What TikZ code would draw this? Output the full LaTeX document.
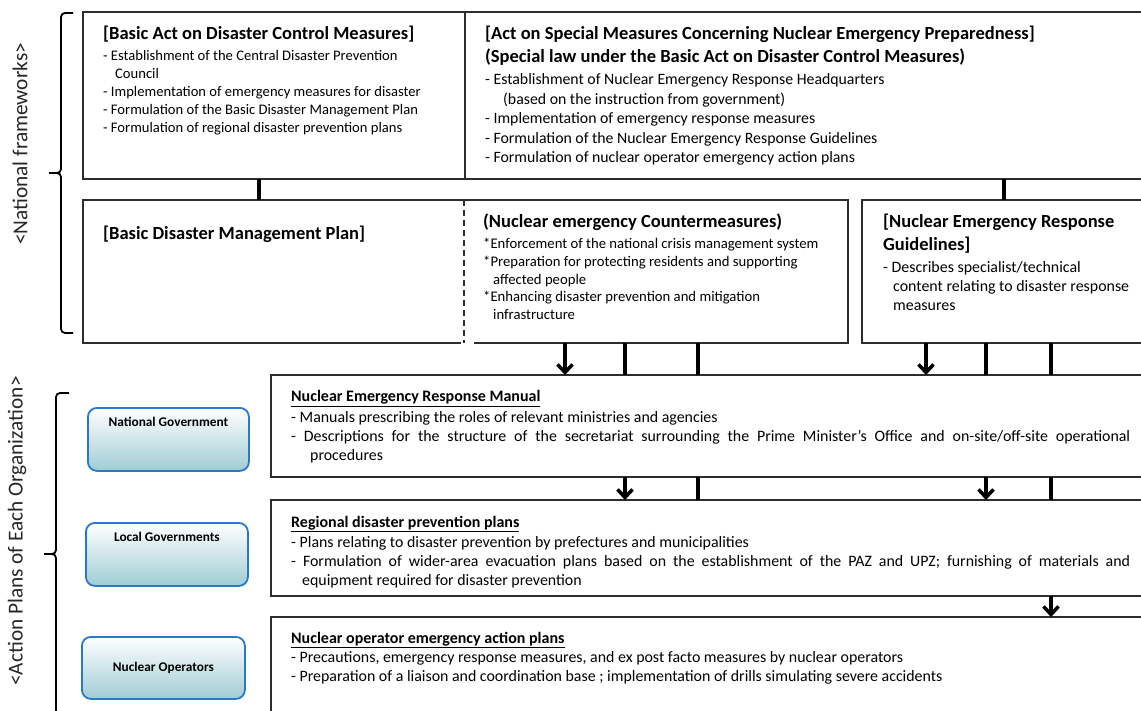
\documentclass[tikz,border=0pt]{standalone}
\usepackage{fontspec}
\setmainfont{Carlito}
\usetikzlibrary{positioning,arrows.meta}

\definecolor{boxline}{RGB}{45,45,45}
\definecolor{orgline}{RGB}{40,120,205}
\definecolor{orgfill}{RGB}{160,204,212}

\tikzset{
	frame/.style={draw=boxline, line width=1.3pt, inner sep=0pt, outer sep=0pt, anchor=north west},
	link/.style={line width=3.5pt},
	flow/.style={link, -{Straight Barb[length=8pt,width=15pt]}},
	brace/.style={line width=1.8pt, rounded corners=4pt},
	txt/.style={anchor=base west, inner sep=0pt, align=left},
	headA/.style={txt, font=\fontsize{18.5}{23}\bfseries\selectfont},
	headC/.style={txt, font=\fontsize{16}{19}\bfseries\selectfont},
	bodyA/.style={txt, font=\fontsize{14.6}{18}\selectfont},
	bodyB/.style={txt, font=\fontsize{15.8}{19.5}\selectfont},
	bodyC/.style={txt, font=\fontsize{15.9}{19}\selectfont},
	bodyD/.style={txt, font=\fontsize{14.7}{17.7}\selectfont},
	side/.style={rotate=90, inner sep=0pt, text=black!85, font=\fontsize{21.3}{24}\selectfont},
	org/.style={draw=orgline, line width=1.8pt, rounded corners=9pt, top color=white, bottom color=orgfill, anchor=north west, inner sep=0pt, font=\fontsize{13.3}{15}\bfseries\selectfont},
	orgtext/.style={inner sep=0pt, font=\fontsize{13.3}{15}\bfseries\selectfont}
}

\begin{document}
\begin{tikzpicture}[x=1pt, y=-1pt]
	\useasboundingbox (0,0) rectangle (1141,711);
	\clip (0,0) rectangle (1141,711);

	% national frameworks (text nodes sit on the baseline of their last line)
	\node[side] (natlabel) at (20,144) {<National frameworks>};
	\draw[brace] (73,13) -- (61,13) -- (61,173) -- (49,173)
		(49,173) -- (61,173) -- (61,333) -- (73,333);

	\node[frame, minimum width=1090pt, minimum height=167pt] (acts) at (83,12) {};
	\draw[draw=boxline, line width=1.3pt] (acts.north -| 465,0) -- (acts.south -| 465,0);

	\node[headA] (basicact) at (103,40) {[Basic Act on Disaster Control Measures]};
	\node[bodyA] (basicitems) at (103,133) {- Establishment of the Central Disaster Prevention\\
		\hspace*{12pt}Council\\
		- Implementation of emergency measures for disaster\\
		- Formulation of the Basic Disaster Management Plan\\
		- Formulation of regional disaster prevention plans};

	\node[headA] (specialact) at (485,63) {[Act on Special Measures Concerning Nuclear Emergency Preparedness]\\
		(Special law under the Basic Act on Disaster Control Measures)};
	\node[bodyB] (specialitems) at (485,163) {- Establishment of Nuclear Emergency Response Headquarters\\
		\hspace*{18pt}(based on the instruction from government)\\
		- Implementation of emergency response measures\\
		- Formulation of the Nuclear Emergency Response Guidelines\\
		- Formulation of nuclear operator emergency action plans};

	% plans
	\node[inner sep=0pt, outer sep=0pt, anchor=north west, minimum width=765pt, minimum height=143pt] (plan) at (83,200) {};
	\draw[draw=boxline, line width=1.3pt] (plan.south -| 461,0) -- (plan.south west) -- (plan.north west)
		-- (plan.north east) -- (plan.south east) -- (plan.south -| 474,0);
	\draw[draw=boxline, line width=1.3pt, dash pattern=on 6pt off 4pt] (plan.north -| 464,0) -- (plan.south -| 464,0);
	\node[frame, minimum width=300pt, minimum height=143pt] (guide) at (862,200) {};

	\draw[link] (acts.south -| 259,0) -- (plan.north -| 259,0);
	\draw[link] (acts.south -| 1004,0) -- (guide.north -| 1004,0);

	\node[headA] (bdmp) at (103,240) {[Basic Disaster Management Plan]};
	\node[headA] (counter) at (483,228) {(Nuclear emergency Countermeasures)};
	\node[bodyD] (counteritems) at (483,319.5) {*Enforcement of the national crisis management system\\
		*Preparation for protecting residents and supporting\\
		\hspace*{10pt}affected people\\
		*Enhancing disaster prevention and mitigation\\
		\hspace*{10pt}infrastructure};
	\node[headA] (guidename) at (883,251) {[Nuclear Emergency Response\\Guidelines]};
	\node[bodyC] (guideitems) at (883,311) {- Describes specialist/technical\\
		\hspace*{10pt}content relating to disaster response\\
		\hspace*{10pt}measures};

	% action plans of each organization
	\node[side] (orglabel) at (17,531) {<Action Plans of Each Organization>};
	\draw[brace] (69,393) -- (56,393) -- (56,554) -- (44,554)
		(44,554) -- (56,554) -- (56,730);

	\node[org, minimum width=161pt, minimum height=63pt] (natgov) at (87,407) {};
	\node[orgtext, below=10pt of natgov.north] (natgovname) {National Government};
	\node[org, minimum width=162pt, minimum height=63pt] (localgov) at (85,522) {};
	\node[orgtext, below=10pt of localgov.north] (localgovname) {Local Governments};
	\node[org, minimum width=163pt, minimum height=62pt] (nucop) at (81,636) {Nuclear Operators};

	\node[frame, minimum width=900pt, minimum height=102pt] (manual) at (271,375) {};
	\node[frame, minimum width=900pt, minimum height=96pt] (regional) at (271,500) {};
	\node[frame, minimum width=900pt, minimum height=120pt] (operator) at (271,617) {};

	\draw[flow] (plan.south -| 565,0) -- (manual.north -| 565,0);
	\draw[link] (plan.south -| 625,0) -- (manual.north -| 625,0);
	\draw[link] (plan.south -| 698,0) -- (manual.north -| 698,0);
	\draw[flow] (guide.south -| 926,0) -- (manual.north -| 926,0);
	\draw[link] (guide.south -| 986,0) -- (manual.north -| 986,0);
	\draw[link] (guide.south -| 1051,0) -- (manual.north -| 1051,0);

	\draw[flow] (manual.south -| 625,0) -- (regional.north -| 625,0);
	\draw[link] (manual.south -| 698,0) -- (regional.north -| 698,0);
	\draw[flow] (manual.south -| 986,0) -- (regional.north -| 986,0);
	\draw[link] (manual.south -| 1051,0) -- (regional.north -| 1051,0);

	\draw[flow] (regional.south -| 1051,0) -- (operator.north -| 1051,0);

	\node[headC] (manualname) at (291,402) {\underline{Nuclear Emergency Response Manual}};
	\node[bodyC] (manualitems) at (291,460.5) {- Manuals prescribing the roles of relevant ministries and agencies\\
		\makebox[839pt][s]{- Descriptions for the structure of the secretariat surrounding the Prime Minister's Office and on-site/off-site operational}\\
		\hspace*{19pt}procedures};

	\node[headC] (regionalname) at (291,527.5) {\underline{Regional disaster prevention plans}};
	\begin{scope}
		\clip (271,500) rectangle (1141,587);
		\node[bodyC] (regionalitems) at (291,585.5) {- Plans relating to disaster prevention by prefectures and municipalities\\
			\makebox[839pt][s]{- Formulation of wider-area evacuation plans based on the establishment of the PAZ and UPZ; furnishing of materials and}\\
			\hspace*{11pt}equipment required for disaster prevention};
	\end{scope}

	\node[headC] (operatorname) at (291,643.5) {\underline{Nuclear operator emergency action plans}};
	\node[bodyC] (operatoritems) at (291,681) {- Precautions, emergency response measures, and ex post facto measures by nuclear operators\\
		- Preparation of a liaison and coordination base ; implementation of drills simulating severe accidents};
\end{tikzpicture}
\end{document}
